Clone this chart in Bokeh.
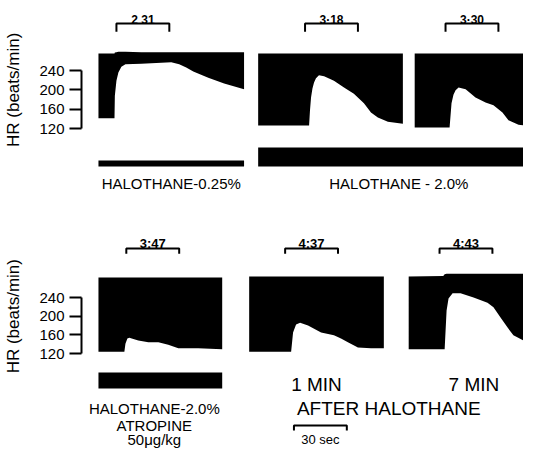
import numpy as np
from bokeh.plotting import figure
from bokeh.models import Range1d, FixedTicker
from bokeh.layouts import column, row
from bokeh.embed import file_html
from bokeh.resources import INLINE
from bokeh.core.properties import value

FONT = "Liberation Sans"

# ---------------- data ----------------
# Each record: time within the recording (s) and the lower edge of the inked
# heart-rate band (beats/min); *_TOP is the upper edge of the inked band.
P1_T = [0, 9.1, 9.3, 10.2, 11.3, 13.0, 15.3, 24.3, 41.3, 45.8, 49.8, 53.8, 62.3, 71.3, 82.6]
P1_HR = [141, 141, 188, 219, 236, 248, 253, 254, 257, 253, 246, 238, 225, 213, 201]
P1_TOP = [275, 275, 277, 278, 279, 279, 279, 278, 278, 278, 278, 278, 278, 278, 278]

P2_T = [0, 28.9, 29.4, 30.0, 30.8, 31.7, 32.8, 34.5, 37.4, 43.0, 48.7, 54.3, 60.0, 64.0, 67.9, 73.6, 82.1]
P2_HR = [126, 126, 157, 184, 203, 215, 224, 230, 228, 219, 205, 192, 172, 153, 143, 134, 130]
P2_TOP = 275

P3_T = [0, 19.8, 20.9, 22.0, 23.2, 24.9, 28.9, 34.5, 40.2, 44.7, 49.8, 53.2, 58.9, 66.8, 70.8]
P3_HR = [122, 122, 172, 190, 199, 205, 201, 184, 174, 168, 153, 137, 128, 124, 124]
P3_TOP = 275

P4_T = [0, 14.7, 15.3, 16.4, 17.5, 22.6, 28.3, 34.0, 39.6, 45.3, 50.9, 56.6, 70.2]
P4_HR = [124, 124, 141, 152, 154, 148, 144, 144, 139, 131, 131, 131, 129]
P4_TOP = 283

P5_T = [0, 23.8, 24.9, 26.6, 28.9, 33.4, 40.8, 48.1, 52.1, 56.0, 61.7, 69.1, 76.4]
P5_HR = [124, 124, 165, 182, 186, 180, 165, 159, 152, 144, 133, 131, 131]
P5_TOP = 285

P6_T = [0, 19.6, 20.4, 21.5, 22.6, 24.9, 29.4, 36.8, 44.7, 48.1, 52.1, 56.0, 59.4, 65.1, 70.8, 74.2]
P6_HR = [129, 129, 129, 212, 238, 249, 249, 240, 229, 219, 197, 176, 159, 148, 144, 141]
P6_TOP = [285, 286, 290, 291, 291, 291, 291, 291, 291, 291, 291, 291, 291, 291, 291, 291]

# start of each recording on the page time axis (s)
TOP_OFFSETS = [0, 90.6, 179.4]
BOT_OFFSETS = [0, 85.5, 176.0]

# 30-s marker brackets: label and start within each recording (s)
TOP_BRACKET_LABELS = ["2 31", "3·18", "3·30"]
TOP_BRACKET_START = [10.2, 26.6, 17.5]
BOT_BRACKET_LABELS = ["3:47", "4:37", "4:43"]
BOT_BRACKET_START = [15.8, 20.4, 17.5]
BRACKET_LEN = 30

# drug bars (page time, s)
TOP_BAR_LEFT = [0, 90.6]
TOP_BAR_RIGHT = [82.6, 250.2]
BOT_BAR_LEFT = [0]
BOT_BAR_RIGHT = [70.2]

HR_TICKS = [120, 160, 200, 240]

# ---------------- layout ----------------
W, H = 523, 224
LW = 36            # width of the strip holding the rotated axis title
AXW = 44           # border holding ticks and tick labels
SEC_PER_PX = 30 / 53
X0 = -17 * SEC_PER_PX
X1 = X0 + (W - LW - AXW) * SEC_PER_PX


def bare(p):
    p.outline_line_color = None
    p.grid.visible = False
    p.background_fill_color = "white"
    p.border_fill_color = "white"


def make_fig(y0, y1):
    yr = Range1d(y0, y1)
    p = figure(width=W - LW, height=H, x_range=Range1d(X0, X1), y_range=yr,
               output_backend="svg", toolbar_location=None, x_axis_location=None,
               min_border_left=AXW, min_border_right=0, min_border_top=0, min_border_bottom=0)
    bare(p)
    ax = p.yaxis[0]
    ax.ticker = FixedTicker(ticks=HR_TICKS)
    ax.bounds = (120, 240)
    ax.major_tick_out = 12
    ax.major_tick_in = 0
    ax.minor_tick_line_color = None
    ax.major_tick_line_width = 2
    ax.axis_line_width = 2
    ax.axis_line_color = "black"
    ax.major_tick_line_color = "black"
    ax.major_label_text_font = FONT
    ax.major_label_text_font_size = "15px"
    ax.major_label_text_color = "black"
    ax.major_label_standoff = 5

    lab = figure(width=LW, height=H, x_range=Range1d(0, LW), y_range=yr,
                 output_backend="svg", toolbar_location=None,
                 x_axis_location=None, y_axis_location=None,
                 min_border_left=0, min_border_right=0, min_border_top=0, min_border_bottom=0)
    bare(lab)
    lab.text(x=[12.5], y=[200], text=["HR (beats/min)"], angle=np.pi / 2,
             text_font=value(FONT), text_font_size=value("17px"),
             text_align="center", text_baseline="middle", text_color="black")
    return lab, p


def txt(p, xs, ys, texts, size, bold=False):
    p.text(x=xs, y=ys, text=texts, text_font=value(FONT), text_font_size=value(size),
           text_align="center", text_baseline="alphabetic", text_color="black",
           text_font_style="bold" if bold else "normal")


def traces(p, offsets, panels):
    for off, (t, hr, top) in zip(offsets, panels):
        x = np.array(t, dtype=float) + off
        y2 = top if isinstance(top, list) else [top] * len(t)
        p.varea(x=x, y1=hr, y2=y2, fill_color="black")


def brackets(p, offsets, starts, labels, y_line, y_tip, y_lab, size):
    xs, ys, cx = [], [], []
    for off, s in zip(offsets, starts):
        a = off + s
        b = a + BRACKET_LEN
        xs.append([a, a, b, b])
        ys.append([y_tip, y_line, y_line, y_tip])
        cx.append((a + b) / 2)
    p.multi_line(xs=xs, ys=ys, line_color="black", line_width=2)
    txt(p, cx, [y_lab] * len(cx), labels, size, bold=True)


# ---- top row ----
k1 = 120 / 58
lt, pt = make_fig(120 - 96 * k1, 120 + 128 * k1)
traces(pt, TOP_OFFSETS, [(P1_T, P1_HR, P1_TOP), (P2_T, P2_HR, P2_TOP), (P3_T, P3_HR, P3_TOP)])
brackets(pt, TOP_OFFSETS, TOP_BRACKET_START, TOP_BRACKET_LABELS, 337, 320, 344, "12px")
pt.quad(left=TOP_BAR_LEFT, right=TOP_BAR_RIGHT, bottom=[41.4, 41.4], top=[53.8, 80.7],
        fill_color="black", line_color=None)
txt(pt, [(TOP_BAR_LEFT[0] + TOP_BAR_RIGHT[0]) / 2, (TOP_BAR_LEFT[1] + TOP_BAR_RIGHT[1]) / 2],
    [6.2, 6.2], ["HALOTHANE-0.25%", "HALOTHANE - 2.0%"], "15px")

# ---- bottom row ----
k2 = 120 / 56
lb, pb = make_fig(120 - 95 * k2, 120 + 129 * k2)
traces(pb, BOT_OFFSETS, [(P4_T, P4_HR, P4_TOP), (P5_T, P5_HR, P5_TOP), (P6_T, P6_HR, P6_TOP)])
brackets(pb, BOT_OFFSETS, BOT_BRACKET_START, BOT_BRACKET_LABELS, 345, 334, 356, "13px")
pb.quad(left=BOT_BAR_LEFT, right=BOT_BAR_RIGHT, bottom=[45.0], top=[79.3],
        fill_color="black", line_color=None)
txt(pb, [31.7, 31.7, 31.7], [2.1, -34.3, -64.3], ["HALOTHANE-2.0%", "ATROPINE", "50μg/kg"], "15px")
c5 = BOT_OFFSETS[1] + P5_T[-1] / 2
c6 = BOT_OFFSETS[2] + 37.0
txt(pb, [c5, c6], [53.6, 53.6], ["1 MIN", "7 MIN"], "19px")
txt(pb, [164.7], [2.1], ["AFTER HALOTHANE"], "19px")
# 30 s time-scale bar
sb0 = 110.9
pb.multi_line(xs=[[sb0, sb0, sb0 + BRACKET_LEN, sb0 + BRACKET_LEN]], ys=[[-45.0, -34.3, -34.3, -45.0]],
              line_color="black", line_width=2)
txt(pb, [sb0 + BRACKET_LEN / 2], [-64.3], ["30 sec"], "13px")

layout = column(row(lt, pt, spacing=0), row(lb, pb, spacing=0), spacing=0)
open("out.html", "w").write(file_html(layout, INLINE))
